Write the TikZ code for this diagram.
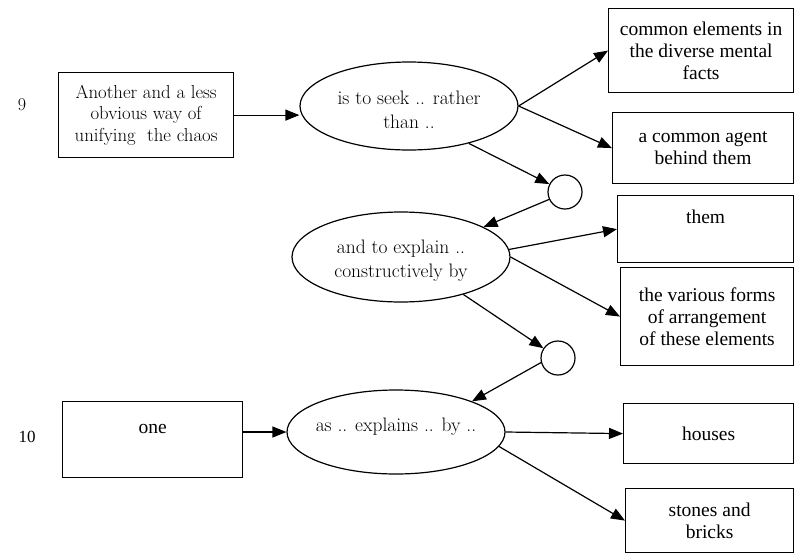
\documentclass[tikz,border=0pt]{standalone}
\usepackage{fontspec}
\newfontfamily\timesfont{Liberation Serif}
\usetikzlibrary{arrows.meta,shapes.geometric}
% text inside an oval: no height of its own, lowered by #1
\newcommand{\ovaltext}[2]{\raisebox{-#1}[0pt][0pt]{\begin{tabular}{@{}c@{}}#2\end{tabular}}}
\begin{document}
\begin{tikzpicture}[x=1pt,y=-1pt,
  box/.style={draw,line width=1.2pt,rectangle,inner sep=0pt,anchor=north west,align=center,
    font=\timesfont\fontsize{19.5}{22}\selectfont},
  gbox/.style={box,font=\fontsize{18.8}{21.5}\selectfont},
  oval/.style={draw,ellipse,line width=1.2pt,inner ysep=0pt,inner xsep=-12pt,
    font=\fontsize{19.5}{24}\selectfont},
  knot/.style={draw,circle,line width=1.2pt,minimum size=34pt,inner sep=0pt},
  link/.style={line width=1.2pt,-{Triangle[length=14pt,width=11pt]}},
  num/.style={font=\fontsize{18}{20}\selectfont}
]
\useasboundingbox (0,0) rectangle (795,555);

% section numbers
\node[num] (n9) at (22,105) {9};
\node[num,font=\timesfont\fontsize{17}{20}\selectfont] (n10) at (27,437) {10};

% left-hand boxes
\node[gbox,minimum width=175pt,minimum height=85pt] (b9) at (58,72)
  {Another and a less\\obvious way of\\unifying\ \ the chaos};
\node[box,minimum width=180pt,text height=32pt,text depth=44pt] (one) at (62,401) {one};

% ovals
\node[oval,minimum width=218pt,minimum height=88pt] (e1) at (409,106)
  {\ovaltext{11pt}{is to seek .. rather\\than ..}};
\node[oval,minimum width=218pt,minimum height=90pt] (e2) at (401,257)
  {\ovaltext{9pt}{and to explain ..\\constructively by}};
\node[oval,minimum width=218pt,minimum height=84pt] (e3) at (396,432)
  {\ovaltext{0pt}{as .. explains .. by ..}};

% junction circles
\node[knot] (c1) at (565,192) {};
\node[knot] (c2) at (558,358) {};

% right-hand boxes
\node[box,minimum width=185pt,minimum height=84pt] (ce) at (608,8)
  {common elements in\\the diverse mental\\facts};
\node[box,minimum width=181pt,minimum height=71pt] (ag) at (612,112)
  {a common agent\\behind them};
\node[box,minimum width=176pt,text height=28pt,text depth=39pt] (th) at (617,195) {them};
\node[box,minimum width=173pt,minimum height=98pt] (vf) at (620,267)
  {the various forms\\of arrangement\\of these elements};
\node[box,minimum width=170pt,minimum height=60pt] (ho) at (623,403) {houses};
\node[box,minimum width=168pt,minimum height=64pt] (st) at (625,488) {stones and\\bricks};

% connectors
\draw[link] (b9.east) -- (b9.east -| e1.west);
\draw[link] (e1.east) -- (ce.west);
\draw[link] (e1.east) -- (ag.west);
\draw[link] (e1.-32) -- (c1);
\draw[link] (c1.205) -- (e2.20);
\draw[link] (e2.4) -- (th.west);
\draw[link] (e2.east) -- (vf.west);
\draw[link] (e2.-31) -- (c2);
\draw[link] (c2.195) -- (e3.22);
\draw[link] (one.east |- e3.west) -- (e3.west);
\draw[link] (e3.east) -- (ho.west);
\draw[link] (e3.-8) -- (st.west);
\end{tikzpicture}
\end{document}
